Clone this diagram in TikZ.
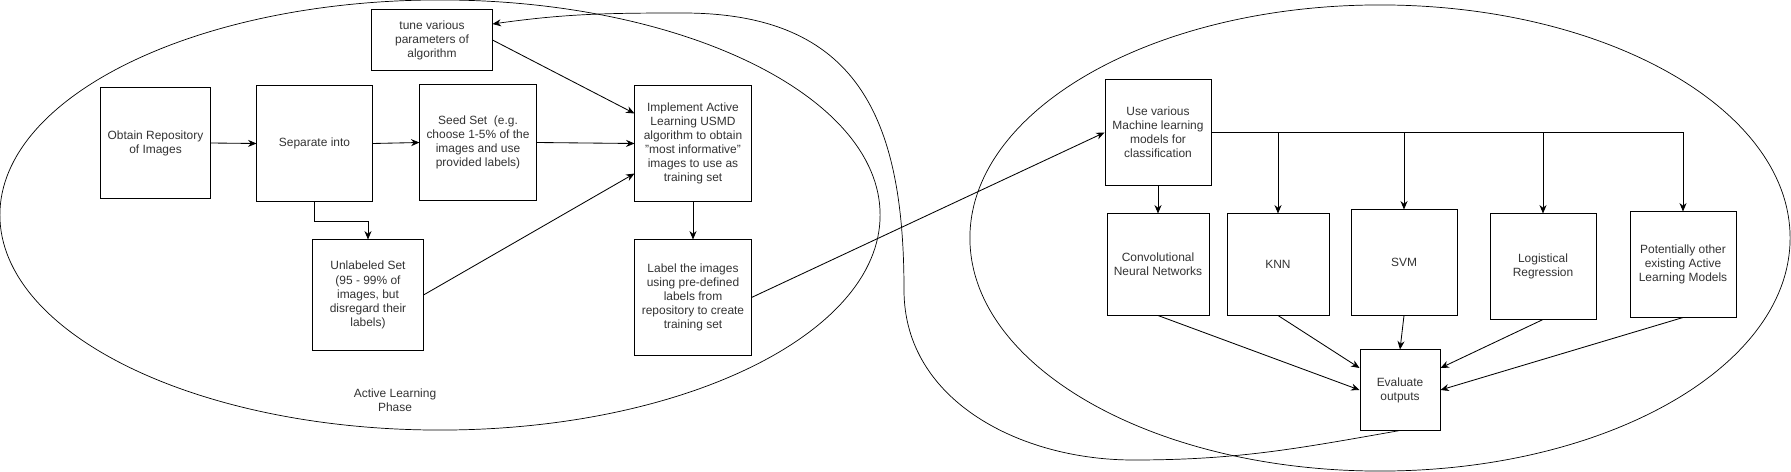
\documentclass[tikz,border=0pt]{standalone}
\usepackage{fontspec}
\setmainfont{Liberation Sans}
\usepackage{tikz}
\usetikzlibrary{arrows.meta}
\definecolor{boxtext}{HTML}{333333}
\tikzset{
	procbox/.style={draw, fill=white, line width=0.7pt, inner sep=0pt, align=center, text=boxtext, font=\fontsize{8.5pt}{10pt}\selectfont},
	flow/.style={-{Stealth[length=6pt,width=5pt]}, line width=0.6pt},
	ring/.style={line width=0.5pt}
}

\begin{document}
\begin{tikzpicture}[x=0.025cm, y=-0.025cm]
	\useasboundingbox (0,0) rectangle (1791,472);
	\draw [ring] (440,215) ellipse [x radius=11cm, y radius=5.375cm];
	\draw [ring] (1380,238) ellipse [x radius=10.25cm, y radius=5.825cm];
	\node [procbox, minimum width=3cm, minimum height=1.5cm] (tune) at (432,40) {tune various\\parameters of\\algorithm};
	\node [procbox, minimum width=2.75cm, minimum height=2.75cm] (obtain) at (155.5,143) {Obtain Repository\\of Images};
	\node [procbox, minimum width=2.875cm, minimum height=2.875cm] (separate) at (314.5,143.5) {Separate into};
	\node [procbox, minimum width=2.9cm, minimum height=2.875cm] (seed) at (478,142.5) {Seed Set\ \ (e.g.\\choose 1-5\% of the\\images and use\\provided labels)};
	\node [procbox, minimum width=2.75cm, minimum height=2.75cm] (unlabeled) at (368,295) {Unlabeled Set\\(95 - 99\% of\\images, but\\disregard their\\labels)};
	\node [procbox, minimum width=2.9cm, minimum height=2.875cm] (implement) at (693,143.5) {Implement Active\\Learning USMD\\algorithm to obtain\\"most informative"\\images to use as\\training set};
	\node [procbox, minimum width=2.9cm, minimum height=2.875cm] (label) at (693,297.5) {Label the images\\using pre-defined\\labels from\\repository to create\\training set};
	\node [procbox, align=center, draw=none, fill=none] (phase) at (395,400) {Active Learning\\Phase};
	\node [procbox, minimum width=2.65cm, minimum height=2.625cm] (useml) at (1158,132.5) {Use various\\Machine learning\\models for\\classification};
	\node [procbox, minimum width=2.55cm, minimum height=2.525cm] (cnn) at (1158,264.5) {Convolutional\\Neural Networks};
	\node [procbox, minimum width=2.55cm, minimum height=2.525cm] (knn) at (1278,264.5) {KNN};
	\node [procbox, minimum width=2.65cm, minimum height=2.625cm] (svm) at (1404,262.5) {SVM};
	\node [procbox, minimum width=2.65cm, minimum height=2.625cm] (logreg) at (1543,266.5) {Logistical\\Regression};
	\node [procbox, minimum width=2.65cm, minimum height=2.625cm] (potent) at (1683,264.5) {Potentially other\\existing Active\\Learning Models};
	\node [procbox, minimum width=2cm, minimum height=2cm] (evaluate) at (1400,390) {Evaluate\\outputs};
	\draw [flow] (obtain.east) -- (separate.west);
	\draw [flow] (separate.east) -- (seed.west);
	\draw [flow] (seed.east) -- (implement.west);
	\draw [flow] (separate.south) -- ++(0,20) -| (unlabeled.north);
	\draw [flow] (tune.east) -- ([yshift=0.75cm]implement.west);
	\draw [flow] (unlabeled.east) -- ([yshift=-0.75cm]implement.west);
	\draw [flow] (implement.south) -- (label.north);
	\draw [flow] (label.east) -- (useml.west);
	\draw [flow] (useml.south) -- (cnn.north);
	\foreach \m in {knn, svm, logreg, potent}
		\draw [flow] (useml.east) -| (\m.north);
	\draw [flow] (cnn.south) -- (evaluate.west);
	\draw [flow] (knn.south) -- ([yshift=0.55cm]evaluate.west);
	\draw [flow] (svm.south) -- (evaluate.north);
	\draw [flow] (logreg.south) -- ([yshift=0.55cm]evaluate.east);
	\draw [flow] (potent.south) -- (evaluate.east);
	\coordinate (loopin) at ([yshift=0.4cm]tune.east);
	\coordinate (loopbot) at (1133,460);
	\coordinate (loopside) at (904,290);
	\coordinate (looptop) at (683,13);
	\draw [flow, line width=0.5pt] (evaluate.south) to [out=190, in=0] (loopbot) to [out=180, in=-90] (loopside) to [out=90, in=0, looseness=1.25] (looptop) to [out=180, in=8] (loopin);
\end{tikzpicture}
\end{document}
